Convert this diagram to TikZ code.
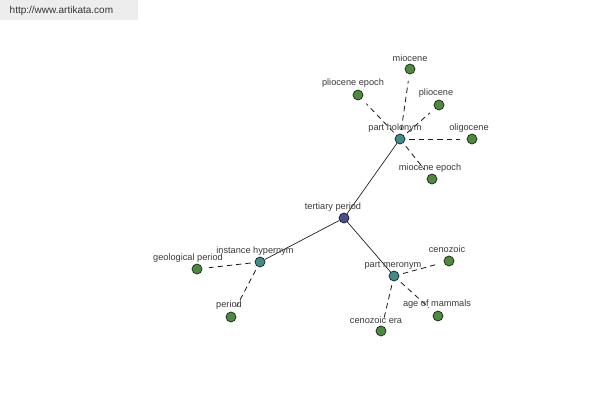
\documentclass[tikz,border=0pt]{standalone}
\usepackage{fontspec}
\setmainfont{Liberation Sans}
\usepackage{xcolor}
\usetikzlibrary{positioning}
\definecolor{cRoot}{HTML}{454F91}
\definecolor{cRel}{HTML}{3F8C8C}
\definecolor{cLeaf}{HTML}{4C8A3E}
\definecolor{cEdge}{HTML}{1A1A1A}
\definecolor{cText}{HTML}{3A3A3A}
\definecolor{cMark}{HTML}{EDEDED}
\tikzset{
  g/dot/.style   ={circle, draw=cEdge, line width=0.5pt, minimum size=7.5pt,
                   inner sep=0pt},
  g/root/.style  ={g/dot, fill=cRoot},
  g/rel/.style   ={g/dot, fill=cRel},
  g/leaf/.style  ={g/dot, fill=cLeaf},
  g/lbl/.style   ={font=\fontsize{6.9}{8}\selectfont, text=cText, inner sep=1pt},
  g/solid/.style ={cEdge, line width=0.5pt},
  g/dash/.style  ={cEdge, line width=0.6pt, dash pattern=on 4pt off 3pt,
                   shorten >=5pt, shorten <=3pt},
  g/mark/.style  ={font=\fontsize{7.5}{9}\selectfont, text=cText!90!black}
}

\begin{document}
\begin{tikzpicture}[x=0.75pt, y=-0.75pt]
    % --- page frame ---
    \useasboundingbox (0,0) rectangle (600,400);
    \fill[white] (0,0) rectangle (600,400);

    % --- watermark ---
    \node[fill=cMark, minimum width=103.5pt, minimum height=15pt, anchor=north west,
          inner sep=0pt] (markbox) at (0,0) {};
    \node[g/mark, anchor=west] (mark) at (5,11) {http://www.artikata.com};

    % --- centre and relation nodes ---
    \node[g/root] (tert) at (344,218) {};
    \node[g/rel]  (hol)  at (400,139) {};
    \node[g/rel]  (hyp)  at (260,262) {};
    \node[g/rel]  (mer)  at (394,276) {};

    % --- leaves ---
    \node[g/leaf] (mio)    at (410,69)  {};
    \node[g/leaf] (plioep) at (358,95)  {};
    \node[g/leaf] (plio)   at (439,105) {};
    \node[g/leaf] (oligo)  at (472,139) {};
    \node[g/leaf] (mioep)  at (432,179) {};
    \node[g/leaf] (geo)    at (197,269) {};
    \node[g/leaf] (per)    at (231,317) {};
    \node[g/leaf] (ceno)   at (449,261) {};
    \node[g/leaf] (age)    at (438,316) {};
    \node[g/leaf] (cenoera) at (381,331) {};

    % --- edges: solid to relations ---
    \draw[g/solid] (tert) -- (hol);
    \draw[g/solid] (tert) -- (hyp);
    \draw[g/solid] (tert) -- (mer);

    % --- edges: dashed to leaves ---
    \foreach \a/\b in {hol/mio, hol/plioep, hol/plio, hol/oligo, hol/mioep,
                       hyp/geo, hyp/per,
                       mer/ceno, mer/age, mer/cenoera}
      \draw[g/dash] (\a) -- (\b);

    % --- labels ---
    \node[g/lbl] (tertl)    at (333,207) {tertiary period};
    \node[g/lbl] (holl)     at (395,128) {part holonym};
    \node[g/lbl] (hypl)     at (255,251) {instance hypernym};
    \node[g/lbl] (merl)     at (393,265) {part meronym};
    \node[g/lbl] (miol)     at (410,58)  {miocene};
    \node[g/lbl] (plioepl)  at (353,83)  {pliocene epoch};
    \node[g/lbl] (pliol)    at (436,93)  {pliocene};
    \node[g/lbl] (oligol)   at (469,128) {oligocene};
    \node[g/lbl] (mioepl)   at (430,168) {miocene epoch};
    \node[g/lbl] (geol)     at (188,258) {geological period};
    \node[g/lbl] (perl)     at (229,305) {period};
    \node[g/lbl] (cenol)    at (447,249) {cenozoic};
    \node[g/lbl] (agel)     at (437,304) {age of mammals};
    \node[g/lbl] (cenoeral) at (376,320) {cenozoic era};
\end{tikzpicture}
\end{document}
